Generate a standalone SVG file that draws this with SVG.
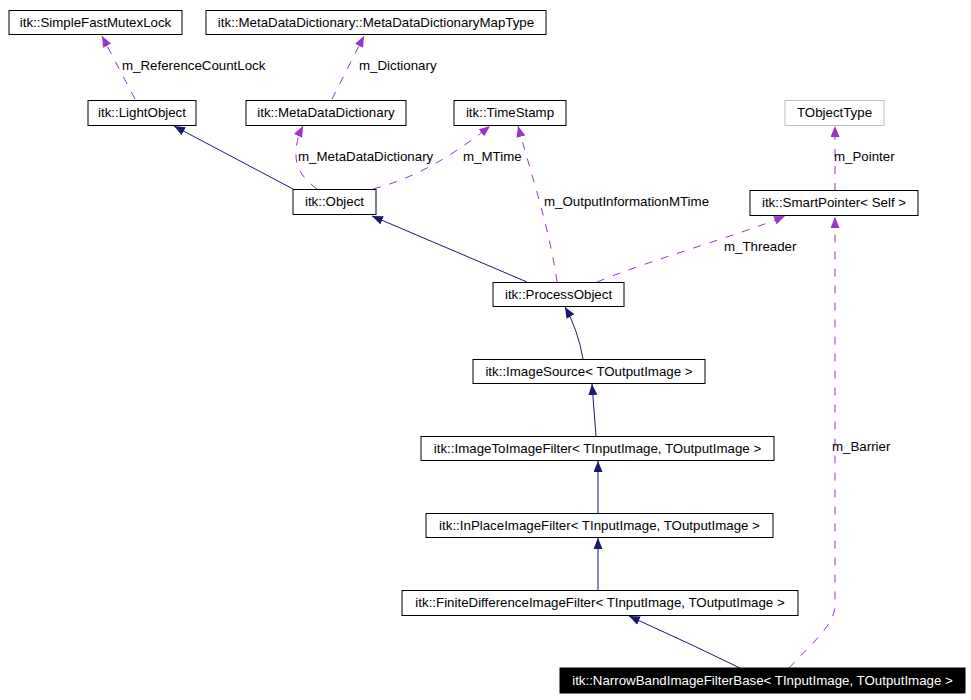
<svg xmlns="http://www.w3.org/2000/svg" width="971" height="700" viewBox="0 0 971 700">
<style>
.n rect{fill:#fff;stroke:#000;stroke-width:1}
.n text,.lbl{font-family:"Liberation Sans",Arial,sans-serif;font-size:13.3px;fill:#000}
.n text{text-anchor:middle}
.g rect{stroke:#bfbfbf}
.h rect{fill:#000}
.h text{fill:#fff}
.inh{fill:none;stroke:#191970;stroke-width:1;marker-end:url(#an)}
.use{fill:none;stroke:#9a32cd;stroke-width:1;stroke-dasharray:8,9;marker-end:url(#ap)}
</style>
<defs>
<marker id="an" viewBox="0 0 11 9" refX="11" refY="4.5" markerWidth="11" markerHeight="9" markerUnits="userSpaceOnUse" orient="auto"><path d="M0,0 L11,4.5 L0,9 z" fill="#191970"/></marker>
<marker id="ap" viewBox="0 0 11 9" refX="11" refY="4.5" markerWidth="11" markerHeight="9" markerUnits="userSpaceOnUse" orient="auto"><path d="M0,0 L11,4.5 L0,9 z" fill="#9a32cd"/></marker>
</defs>
<rect width="971" height="700" fill="#fff"/>
<g id="connectors">
<path class="inh" d="M293,189 L174,126"/>
<path class="inh" d="M527,282 L372,216"/>
<path class="inh" d="M583,359 Q578,330 565,307"/>
<path class="inh" d="M596,436 Q594,410 592,384"/>
<path class="inh" d="M598,513 L598,461"/>
<path class="inh" d="M598,591 L598,538"/>
<path class="inh" d="M740,668 L692,645 L629,616"/>
<path class="use" d="M135,99 L102,36"/>
<path class="use" d="M332,99 L364,36"/>
<path class="use" d="M317,189 C305,180 296,170 296,155 C296,140 300,132 303,126"/>
<path class="use" d="M373,189 C420,177 460,150 490,126"/>
<path class="use" d="M557,282 C550,230 530,170 518,126"/>
<path class="use" d="M597,282 C650,260 740,235 785,216"/>
<path class="use" d="M835,191 L835,126"/>
<path class="use" d="M789,668 C810,645 835,625 835,605 L835,217"/>
<text class="lbl" x="122" y="70">m_ReferenceCountLock</text>
<text class="lbl" x="359" y="70">m_Dictionary</text>
<text class="lbl" x="298" y="161">m_MetaDataDictionary</text>
<text class="lbl" x="463" y="161">m_MTime</text>
<text class="lbl" x="544" y="206">m_OutputInformationMTime</text>
<text class="lbl" x="724" y="251">m_Threader</text>
<text class="lbl" x="834" y="161">m_Pointer</text>
<text class="lbl" x="832" y="451">m_Barrier</text>
</g>
<g id="SimpleFastMutexLock" class="n"><rect x="9" y="10.5" width="173" height="24"/><text x="95.5" y="27">itk::SimpleFastMutexLock</text></g>
<g id="MetaDataDictionaryMapType" class="n"><rect x="206" y="10.5" width="340" height="24"/><text x="376" y="27">itk::MetaDataDictionary::MetaDataDictionaryMapType</text></g>
<g id="LightObject" class="n"><rect x="88" y="100.5" width="108" height="25"/><text x="142" y="117">itk::LightObject</text></g>
<g id="MetaDataDictionary" class="n"><rect x="246" y="100.5" width="160" height="25"/><text x="326" y="117">itk::MetaDataDictionary</text></g>
<g id="TimeStamp" class="n"><rect x="454" y="100.5" width="112" height="25"/><text x="510" y="117">itk::TimeStamp</text></g>
<g id="TObjectType" class="n g"><rect x="785" y="100.5" width="99" height="25"/><text x="834.5" y="117">TObjectType</text></g>
<g id="Object" class="n"><rect x="293" y="189.5" width="83" height="25"/><text x="334.5" y="206">itk::Object</text></g>
<g id="SmartPointer" class="n"><rect x="750" y="190.5" width="168" height="25"/><text x="834" y="207">itk::SmartPointer&lt; Self &gt;</text></g>
<g id="ProcessObject" class="n"><rect x="493" y="282.5" width="131" height="24"/><text x="558.5" y="299">itk::ProcessObject</text></g>
<g id="ImageSource" class="n"><rect x="473" y="359.5" width="232" height="24"/><text x="589" y="376">itk::ImageSource&lt; TOutputImage &gt;</text></g>
<g id="ImageToImageFilter" class="n"><rect x="421" y="436.5" width="353" height="24"/><text x="597.5" y="453">itk::ImageToImageFilter&lt; TInputImage, TOutputImage &gt;</text></g>
<g id="InPlaceImageFilter" class="n"><rect x="426" y="513.5" width="347" height="24"/><text x="599.5" y="530">itk::InPlaceImageFilter&lt; TInputImage, TOutputImage &gt;</text></g>
<g id="FiniteDifferenceImageFilter" class="n"><rect x="402" y="590.5" width="396" height="25"/><text x="600" y="607">itk::FiniteDifferenceImageFilter&lt; TInputImage, TOutputImage &gt;</text></g>
<g id="NarrowBandImageFilterBase" class="n h"><rect x="560" y="668" width="405" height="25"/><text x="762.5" y="685">itk::NarrowBandImageFilterBase&lt; TInputImage, TOutputImage &gt;</text></g>
</svg>
